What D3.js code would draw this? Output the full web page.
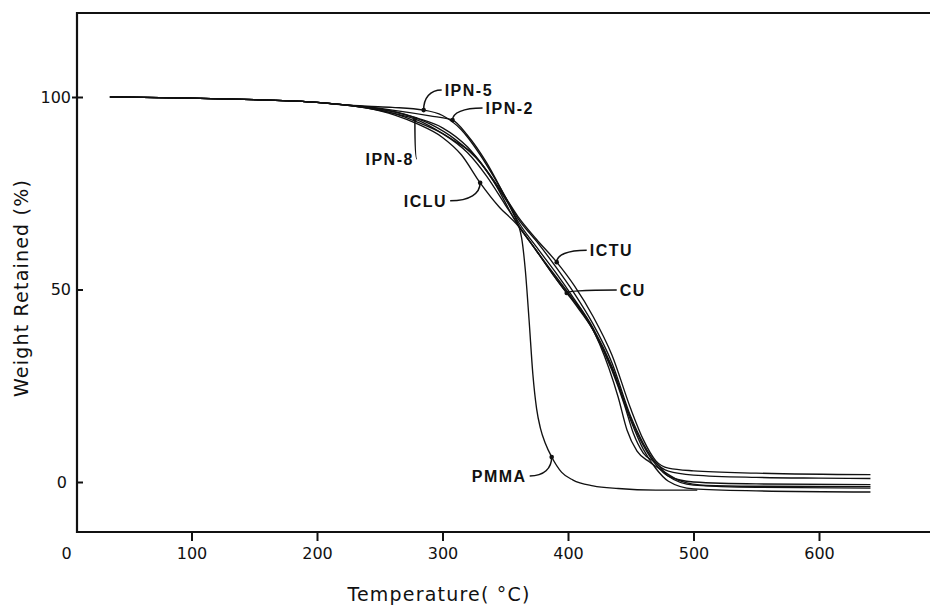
<!DOCTYPE html>
<html>
<head>
<meta charset="utf-8">
<script src="https://cdn.jsdelivr.net/npm/d3@7"></script>
<style>
  body { margin: 0; background: #fff; }
  svg { display: block; }
  .tick text { font-family: "DejaVu Sans", sans-serif; font-size: 16px; fill: #111; }
  .curve-label { font-family: "Liberation Sans", Arial, sans-serif; font-weight: bold; font-size: 16px; letter-spacing: 1.5px; fill: #111; }
  .axis-title { font-family: "DejaVu Sans", sans-serif; font-size: 19px; fill: #111; letter-spacing: 1.2px; }
</style>
</head>
<body>
<svg id="chart" width="930" height="606"></svg>
<script>
// temperature (°C) / weight retained (%)
const early = [[35, 100], [100, 99.7], [150, 99.3], [200, 98.6], [220, 98]];

const ipn5 = [[240, 97.6], [260, 97.3], [285, 96.6], [300, 95.2], [315, 91.5], [330, 85], [345, 77], [360, 68.5], [375, 62.5], [390, 56], [405, 49], [420, 41], [435, 31], [450, 17], [460, 10], [470, 5], [480, 2.8], [500, 1.8], [550, 1.2], [600, 1.0], [641, 0.9]];
const ipn2 = [[240, 97.4], [260, 96.6], [290, 95.1], [308, 94], [320, 90], [335, 83], [350, 74], [360, 67.8], [375, 61], [390, 54.5], [405, 47.5], [420, 40], [435, 30], [450, 16.5], [460, 9.5], [470, 4.5], [480, 1.5], [500, 0], [550, -0.5], [641, -0.7]];
const ipn8 = [[240, 97.1], [260, 95.8], [278, 94.3], [295, 91.5], [310, 88.5], [325, 85], [340, 78.5], [359, 67.3], [375, 60], [390, 53], [405, 46.5], [420, 39.5], [435, 29.5], [450, 16], [460, 8.5], [470, 3.5], [480, 0.2], [500, -1.8], [550, -2.3], [641, -2.6]];
const iclu = [[240, 97.1], [262, 95.3], [280, 93], [300, 89.5], [315, 85], [330, 77.7], [345, 71.5], [359, 67], [375, 60], [390, 53.5], [405, 47], [420, 39.5], [435, 29], [445, 20], [452, 12.7], [460, 7.5], [470, 5], [480, 1.5], [500, -0.8], [550, -1.4], [641, -1.6]];
const ictu = [[240, 97.4], [262, 96.1], [280, 94.5], [300, 92], [320, 87], [335, 81], [350, 74], [360, 69], [375, 63], [391, 57.1], [405, 51], [420, 43], [435, 33], [450, 19], [460, 11], [470, 5.5], [480, 3.6], [500, 2.9], [550, 2.3], [641, 1.9]];
const cu = [[240, 97.2], [262, 95.7], [280, 93.5], [300, 90.5], [320, 85.5], [335, 79.5], [350, 72], [360, 67], [375, 60], [390, 53], [399, 49.1], [410, 45], [425, 36], [440, 22], [447, 13.5], [455, 8], [465, 5.2], [475, 3], [490, 0.2], [510, -0.9], [550, -1.1], [641, -1.2]];
const pmma = [[240, 97.3], [270, 95.5], [290, 93], [310, 89], [330, 83], [345, 76], [356, 70], [363, 63.5], [366, 55], [369, 42], [372, 28], [375, 19], [378, 14], [382, 10], [387, 6.5], [395, 2.5], [404, 0.5], [420, -1], [440, -1.7], [470, -2.1], [503, -2.1]];

const seriesNames = ["IPN-5", "IPN-2", "IPN-8", "ICLU", "ICTU", "CU", "PMMA"];
const seriesValues = [ipn5, ipn2, ipn8, iclu, ictu, cu, pmma];

// point on each curve that its label points to
const markerT = [285, 308, 278, 330, 391, 399, 387];
const markerW = [96.6, 94, 94.3, 77.7, 57.1, 49.1, 6.5];

const xTicks = [0, 100, 200, 300, 400, 500, 600];
const yTicks = [0, 50, 100];

// label placement relative to its marker (px): dx, dy of the leader's label end, text anchor
const labelLayout = [
    {dx: 18, dy: -20, anchor: "start"},
    {dx: 30, dy: -12, anchor: "start"},
    {dx: 2, dy: 40, anchor: "end"},
    {dx: -30, dy: 18, anchor: "end"},
    {dx: 30, dy: -12, anchor: "start"},
    {dx: 50, dy: -3, anchor: "start"},
    {dx: -22, dy: 19, anchor: "end"}
];

const svg = d3.select("svg#chart");
const frameLeft = 77, frameTop = 13, frameBottom = 532, frameRight = 930;

const x = d3.scaleLinear().domain([0, 600]).range([66, 819]);
const y = d3.scaleLinear().domain([0, 100]).range([482, 97]);

// frame: left, top, bottom (open on the right)
svg.append("path")
    .attr("d", `M${frameRight},${frameTop}H${frameLeft}V${frameBottom}H${frameRight}`)
    .attr("fill", "none")
    .attr("stroke", "#111")
    .attr("stroke-width", 2.2);

// x axis
const gx = svg.append("g")
    .attr("transform", `translate(0,${frameBottom})`)
    .call(d3.axisBottom(x).tickValues(xTicks).tickSize(9).tickPadding(7).tickFormat(d3.format("d")));
gx.select(".domain").remove();
gx.selectAll(".tick line").attr("stroke", "#111").attr("stroke-width", 2)
    .filter(d => d === 0).remove();

// y axis, ticks pointing inward
const gy = svg.append("g")
    .attr("transform", `translate(${frameLeft},0)`)
    .call(d3.axisLeft(y).tickValues(yTicks).tickSizeInner(-6).tickSizeOuter(0).tickPadding(6));
gy.select(".domain").remove();
gy.selectAll(".tick line").attr("stroke", "#111").attr("stroke-width", 2);
gy.selectAll(".tick").filter(d => d === 0).select("text").attr("x", -10);
gy.selectAll(".tick").filter(d => d === 100).select("line").attr("x1", -5);

// curves
const line = d3.line()
    .x(d => x(d[0]))
    .y(d => y(d[1]))
    .curve(d3.curveMonotoneX);

svg.append("g")
    .selectAll("path")
    .data(seriesValues.map(s => early.concat(s)))
    .join("path")
        .attr("d", line)
        .attr("fill", "none")
        .attr("stroke", "#111")
        .attr("stroke-width", 1.35);

// leaders, markers and labels
const ann = svg.append("g");
seriesNames.forEach((name, i) => {
    const mx = x(markerT[i]), my = y(markerW[i]);
    const L = labelLayout[i];
    const lx = mx + L.dx, ly = my + L.dy;
    ann.append("path")
        .attr("d", `M${lx},${ly} C${mx + (lx - mx) * 0.35},${ly} ${mx},${my + (ly - my) * 0.6} ${mx},${my}`)
        .attr("fill", "none")
        .attr("stroke", "#111")
        .attr("stroke-width", 1.5);
    ann.append("circle")
        .attr("cx", mx).attr("cy", my).attr("r", 2.3)
        .attr("fill", "#111");
    ann.append("text")
        .attr("class", "curve-label")
        .attr("x", lx + (L.anchor === "start" ? 3 : -3))
        .attr("y", ly)
        .attr("dy", "0.36em")
        .attr("text-anchor", L.anchor)
        .text(name);
});

// axis titles
svg.append("text")
    .attr("class", "axis-title")
    .attr("x", 439)
    .attr("y", 601)
    .attr("text-anchor", "middle")
    .text("Temperature( °C)");

svg.append("text")
    .attr("class", "axis-title")
    .attr("transform", "translate(28,288) rotate(-90)")
    .attr("text-anchor", "middle")
    .text("Weight Retained (%)");
</script>
</body>
</html>
